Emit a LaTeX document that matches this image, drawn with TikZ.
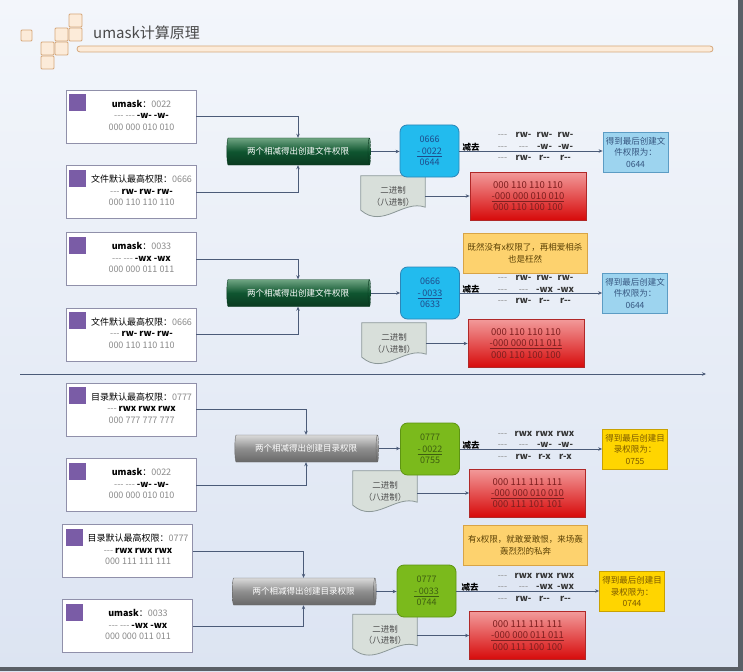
\documentclass[tikz,border=0pt]{standalone}
\usepackage{fontspec}
\setmainfont{Noto Sans CJK SC}
\usetikzlibrary{arrows.meta,shapes.geometric,backgrounds}
\definecolor{pagetop}{HTML}{F3F6FB}
\definecolor{pagebot}{HTML}{DCE4F2}
\definecolor{frameedge}{HTML}{5A5F66}
\definecolor{tilefill}{HTML}{FCEBD9}
\definecolor{tileline}{HTML}{D6A77A}
\definecolor{titletext}{HTML}{4A4A4A}
\definecolor{boxline}{HTML}{9090AA}
\definecolor{tagpurple}{HTML}{7A5CA6}
\definecolor{softgray}{HTML}{8A8A8A}
\definecolor{flowline}{HTML}{4B5B78}
\definecolor{tubegreen}{HTML}{0F5530}
\definecolor{tubegreenhi}{HTML}{6FA582}
\definecolor{tubegreenlo}{HTML}{0A3A20}
\definecolor{tubegray}{HTML}{8E8E8E}
\definecolor{tubegrayhi}{HTML}{DADADA}
\definecolor{tubegraylo}{HTML}{686868}
\definecolor{calcblue}{HTML}{22BBEE}
\definecolor{calcblueline}{HTML}{2C86B8}
\definecolor{calcbluetext}{HTML}{1F4A8A}
\definecolor{calcgreen}{HTML}{7BBA1C}
\definecolor{calcgreenline}{HTML}{5E9412}
\definecolor{calcgreentext}{HTML}{3E5E10}
\definecolor{docfill}{HTML}{D8DFDA}
\definecolor{docedge}{HTML}{8C9898}
\definecolor{binhi}{HTML}{F29A9A}
\definecolor{binlo}{HTML}{D70A0A}
\definecolor{binline}{HTML}{B02828}
\definecolor{bintext}{HTML}{7E1F1F}
\definecolor{resblue}{HTML}{9DD4EF}
\definecolor{resblueline}{HTML}{5C9CC4}
\definecolor{resbluetext}{HTML}{35557F}
\definecolor{resgold}{HTML}{FFD500}
\definecolor{resgoldline}{HTML}{C9A100}
\definecolor{resgoldtext}{HTML}{7A5800}
\definecolor{notefill}{HTML}{FDD26E}
\definecolor{noteline}{HTML}{D8A446}
\definecolor{notetext}{HTML}{5C4205}
\newcommand{\dashes}{\textcolor{softgray}{{-}{-}{-}}}
\newcommand{\optlines}[3]{\hspace*{21pt}\begin{tabular}{@{}c@{}}#1\\#2\\#3\end{tabular}}
\newcommand{\prow}[4]{\makebox[21pt]{#1}\makebox[21pt]{#2}\makebox[21pt]{#3}\makebox[21pt]{#4}}
\newcommand{\docshape}[1]{%
 \filldraw[fill=docfill,draw=docedge,line width=0.8pt] (#1.north west) -- (#1.north east) -- ([yshift=10pt]#1.south east)
 .. controls ([xshift=-22pt,yshift=18pt]#1.south east) and ([xshift=22pt,yshift=-12pt]#1.south west)
 .. ([yshift=7pt]#1.south west) -- cycle;}

\begin{document}
\begin{tikzpicture}[x=1pt,y=-1pt,
 font=\fontsize{8.5}{11.5}\selectfont,
 tile/.style={draw=tileline,fill=tilefill,line width=0.8pt,rounded corners=1pt},
 optbox/.style={draw=boxline,fill=white,line width=0.8pt,minimum width=130,minimum height=53,inner sep=0pt,
 font=\fontsize{9}{11.5}\selectfont,
 path picture={\fill[tagpurple] ([xshift=3pt,yshift=-4pt]path picture bounding box.north west) rectangle ++(17,17);}},
 tube/.style={cylinder,shape border rotate=0,aspect=0.35,minimum width=27,minimum height=144,inner sep=0pt,text=white},
 greentube/.style={tube,draw=tubegreenlo,top color=tubegreenhi,bottom color=tubegreenlo,middle color=tubegreen},
 graytube/.style={tube,draw=tubegraylo,top color=tubegrayhi,bottom color=tubegraylo,middle color=tubegray},
 calcbox/.style={rounded corners=7pt,line width=0.8pt,minimum width=59,minimum height=52,align=center,inner sep=0pt,
 font=\fontsize{9}{11.5}\selectfont},
 bluecalc/.style={calcbox,draw=calcblueline,fill=calcblue,text=calcbluetext},
 greencalc/.style={calcbox,draw=calcgreenline,fill=calcgreen,text=calcgreentext},
 docbox/.style={minimum width=64,minimum height=41,inner sep=0pt,align=center,text=black!70},
 binbox/.style={draw=binline,top color=binhi,bottom color=binlo,line width=0.8pt,minimum width=116,minimum height=48,
 align=center,text=bintext,inner sep=0pt,font=\fontsize{9.5}{11.2}\selectfont},
 resbox/.style={line width=0.8pt,minimum width=65,minimum height=40,align=center,inner sep=0pt},
 blueres/.style={resbox,draw=resblueline,fill=resblue,text=resbluetext},
 goldres/.style={resbox,draw=resgoldline,fill=resgold,text=resgoldtext},
 notebox/.style={draw=noteline,fill=notefill,line width=0.8pt,minimum width=124,minimum height=40,align=center,
 text=notetext,inner sep=0pt},
 permrows/.style={align=center,inner sep=0pt,text=black!80,font=\fontsize{9}{11.5}\selectfont},
 cutlabel/.style={inner sep=0pt,font=\fontsize{8.5}{10}\selectfont\bfseries},
 flow/.style={-{Stealth[length=4pt,width=3.5pt]},draw=flowline,line width=0.7pt}]
\useasboundingbox (0,0) rectangle (743,671);
\begin{scope}[on background layer]
\fill[top color=pagetop,bottom color=pagebot] (0,0) rectangle (743,671);
\end{scope}

% title
\foreach \tx/\ty in {69/14,55/28,69/28,41/42,55/42,41/56}
 \draw[tile] (\tx,\ty) rectangle ++(13,13);
\draw[tile] (21,30) rectangle ++(11,11);
\draw[tile,rounded corners=3pt] (77,46) rectangle (713,52);
\node[anchor=west,inner sep=0pt,text=titletext,font=\fontsize{15}{18}\selectfont] (title) at (93,33) {umask计算原理};

% file, umask 0022
\node[optbox] (o1) at (131,116.5) {\optlines{\textbf{umask}：\textcolor{softgray}{0022}}{\dashes\ \dashes\ \textbf{{-}w{-}} \textbf{{-}w{-}}}{\textcolor{softgray}{000 000 010 010}}};
\node[optbox] (o2) at (131,192) {\optlines{文件默认最高权限：\textcolor{softgray}{0666}}{\dashes\ \textbf{rw{-}} \textbf{rw{-}} \textbf{rw{-}}}{\textcolor{softgray}{000 110 110 110}}};
\node[greentube] (c1) at (298,151.5) {两个相减得出创建文件权限};
\node[bluecalc] (k1) at (429.5,151) {0666\\\underline{-\,0022}\\0644};
\node[docbox] (d1) at (393,196.5) {二进制\\（八进制）};
\node[binbox] (r1) at (528,196) {000 110 110 110\\\underline{-000 000 010 010}\\000 110 100 100};
\node[permrows] (p1) at (534,146.5) {\prow{\dashes}{\textbf{rw{-}}}{\textbf{rw{-}}}{\textbf{rw{-}}}\\
 \prow{\dashes}{\dashes}{\textbf{{-}w{-}}}{\textbf{{-}w{-}}}\\
 \prow{\dashes}{\textbf{rw{-}}}{\textbf{r{-}{-}}}{\textbf{r{-}{-}}}};
\node[cutlabel] (m1) at (471,147) {减去};
\node[blueres] (e1) at (635.5,152) {得到最后创建文\\件权限为：\\0644};
\draw[flow] (o1.east) -| (c1.north);
\draw[flow] (o2.east) -| (c1.south);
\draw[flow] (c1.east) -- (c1.east -| k1.west);
\draw[flow] (k1.east) -- (k1.east -| e1.west);
\draw[flow] (d1.east |- r1.west) -- (r1.west);

% file, umask 0033
\node[optbox] (o3) at (131,259) {\optlines{\textbf{umask}：\textcolor{softgray}{0033}}{\dashes\ \dashes\ \textbf{{-}wx} \textbf{{-}wx}}{\textcolor{softgray}{000 000 011 011}}};
\node[optbox] (o4) at (131,334.5) {\optlines{文件默认最高权限：\textcolor{softgray}{0666}}{\dashes\ \textbf{rw{-}} \textbf{rw{-}} \textbf{rw{-}}}{\textcolor{softgray}{000 110 110 110}}};
\node[greentube] (c2) at (298,293) {两个相减得出创建文件权限};
\node[notebox] (n1) at (525,253) {既然没有x权限了，再相爱相杀\\也是枉然};
\node[bluecalc] (k2) at (430,293) {0666\\\underline{-\,0033}\\0633};
\node[docbox] (d2) at (394,343.5) {二进制\\（八进制）};
\node[binbox] (r2) at (526,343.5) {000 110 110 110\\\underline{-000 000 011 011}\\000 110 100 100};
\node[permrows] (p2) at (534,289.5) {\prow{\dashes}{\textbf{rw{-}}}{\textbf{rw{-}}}{\textbf{rw{-}}}\\
 \prow{\dashes}{\dashes}{\textbf{{-}wx}}{\textbf{{-}wx}}\\
 \prow{\dashes}{\textbf{rw{-}}}{\textbf{r{-}{-}}}{\textbf{r{-}{-}}}};
\node[cutlabel] (m2) at (471,289) {减去};
\node[blueres] (e2) at (635,293) {得到最后创建文\\件权限为：\\0644};
\draw[flow] (o3.east) -| (c2.north);
\draw[flow] (o4.east) -| (c2.south);
\draw[flow] (c2.east) -- (c2.east -| k2.west);
\draw[flow] (k2.east) -- (k2.east -| e2.west);
\draw[flow] (d2.east |- r2.west) -- (r2.west);

% separator
\coordinate (sepL) at (20,374);
\coordinate (sepR) at (706,374);
\draw[flow] (sepL) -- (sepR);

% directory, umask 0022
\node[optbox] (o5) at (131,409.5) {\optlines{目录默认最高权限：\textcolor{softgray}{0777}}{\dashes\ \textbf{rwx} \textbf{rwx} \textbf{rwx}}{\textcolor{softgray}{000 777 777 777}}};
\node[optbox] (o6) at (131,485) {\optlines{\textbf{umask}：\textcolor{softgray}{0022}}{\dashes\ \dashes\ \textbf{{-}w{-}} \textbf{{-}w{-}}}{\textcolor{softgray}{000 000 010 010}}};
\node[graytube] (c3) at (306,448.5) {两个相减得出创建目录权限};
\node[greencalc] (k3) at (430,449) {0777\\\underline{-\,0022}\\0755};
\node[docbox] (d3) at (385,491.5) {二进制\\（八进制）};
\node[binbox] (r3) at (527.5,493) {000 111 111 111\\\underline{-000 000 010 010}\\000 111 101 101};
\node[permrows] (p3) at (534,445) {\prow{\dashes}{\textbf{rwx}}{\textbf{rwx}}{\textbf{rwx}}\\
 \prow{\dashes}{\dashes}{\textbf{{-}w{-}}}{\textbf{{-}w{-}}}\\
 \prow{\dashes}{\textbf{rw{-}}}{\textbf{r{-}x}}{\textbf{r{-}x}}};
\node[cutlabel] (m3) at (471,445) {减去};
\node[goldres] (e3) at (635,449) {得到最后创建目\\录权限为：\\0755};
\draw[flow] (o5.east) -| (c3.north);
\draw[flow] (o6.east) -| (c3.south);
\draw[flow] (c3.east) -- (c3.east -| k3.west);
\draw[flow] (k3.east) -- (k3.east -| e3.west);
\draw[flow] (d3.east |- r3.west) -- (r3.west);

% directory, umask 0033
\node[optbox] (o7) at (127.5,551) {\optlines{目录默认最高权限：\textcolor{softgray}{0777}}{\dashes\ \textbf{rwx} \textbf{rwx} \textbf{rwx}}{\textcolor{softgray}{000 111 111 111}}};
\node[optbox] (o8) at (127.5,626) {\optlines{\textbf{umask}：\textcolor{softgray}{0033}}{\dashes\ \dashes\ \textbf{{-}wx} \textbf{{-}wx}}{\textcolor{softgray}{000 000 011 011}}};
\node[graytube] (c4) at (303.5,591.5) {两个相减得出创建目录权限};
\node[notebox] (n2) at (525.5,545) {有x权限，就敢爱敢恨，来场轰\\轰烈烈的私奔};
\node[greencalc] (k4) at (426.5,591) {0777\\\underline{-\,0033}\\0744};
\node[docbox] (d4) at (385,635) {二进制\\（八进制）};
\node[binbox] (r4) at (527.5,635.5) {000 111 111 111\\\underline{-000 000 011 011}\\000 111 100 100};
\node[permrows] (p4) at (534,587) {\prow{\dashes}{\textbf{rwx}}{\textbf{rwx}}{\textbf{rwx}}\\
 \prow{\dashes}{\dashes}{\textbf{{-}wx}}{\textbf{{-}wx}}\\
 \prow{\dashes}{\textbf{rw{-}}}{\textbf{r{-}{-}}}{\textbf{r{-}{-}}}};
\node[cutlabel] (m4) at (470,587) {减去};
\node[goldres] (e4) at (632,591.5) {得到最后创建目\\录权限为：\\0744};
\draw[flow] (o7.east) -| (c4.north);
\draw[flow] (o8.east) -| (c4.south);
\draw[flow] (c4.east) -- (c4.east -| k4.west);
\draw[flow] (k4.east) -- (k4.east -| e4.west);
\draw[flow] (d4.east |- r4.west) -- (r4.west);

\begin{scope}[on background layer]
\docshape{d1} \docshape{d2} \docshape{d3} \docshape{d4}
\end{scope}

% frame
\fill[frameedge] (738,0) rectangle (743,671);
\fill[frameedge] (0,667) rectangle (743,671);
\end{tikzpicture}
\end{document}
